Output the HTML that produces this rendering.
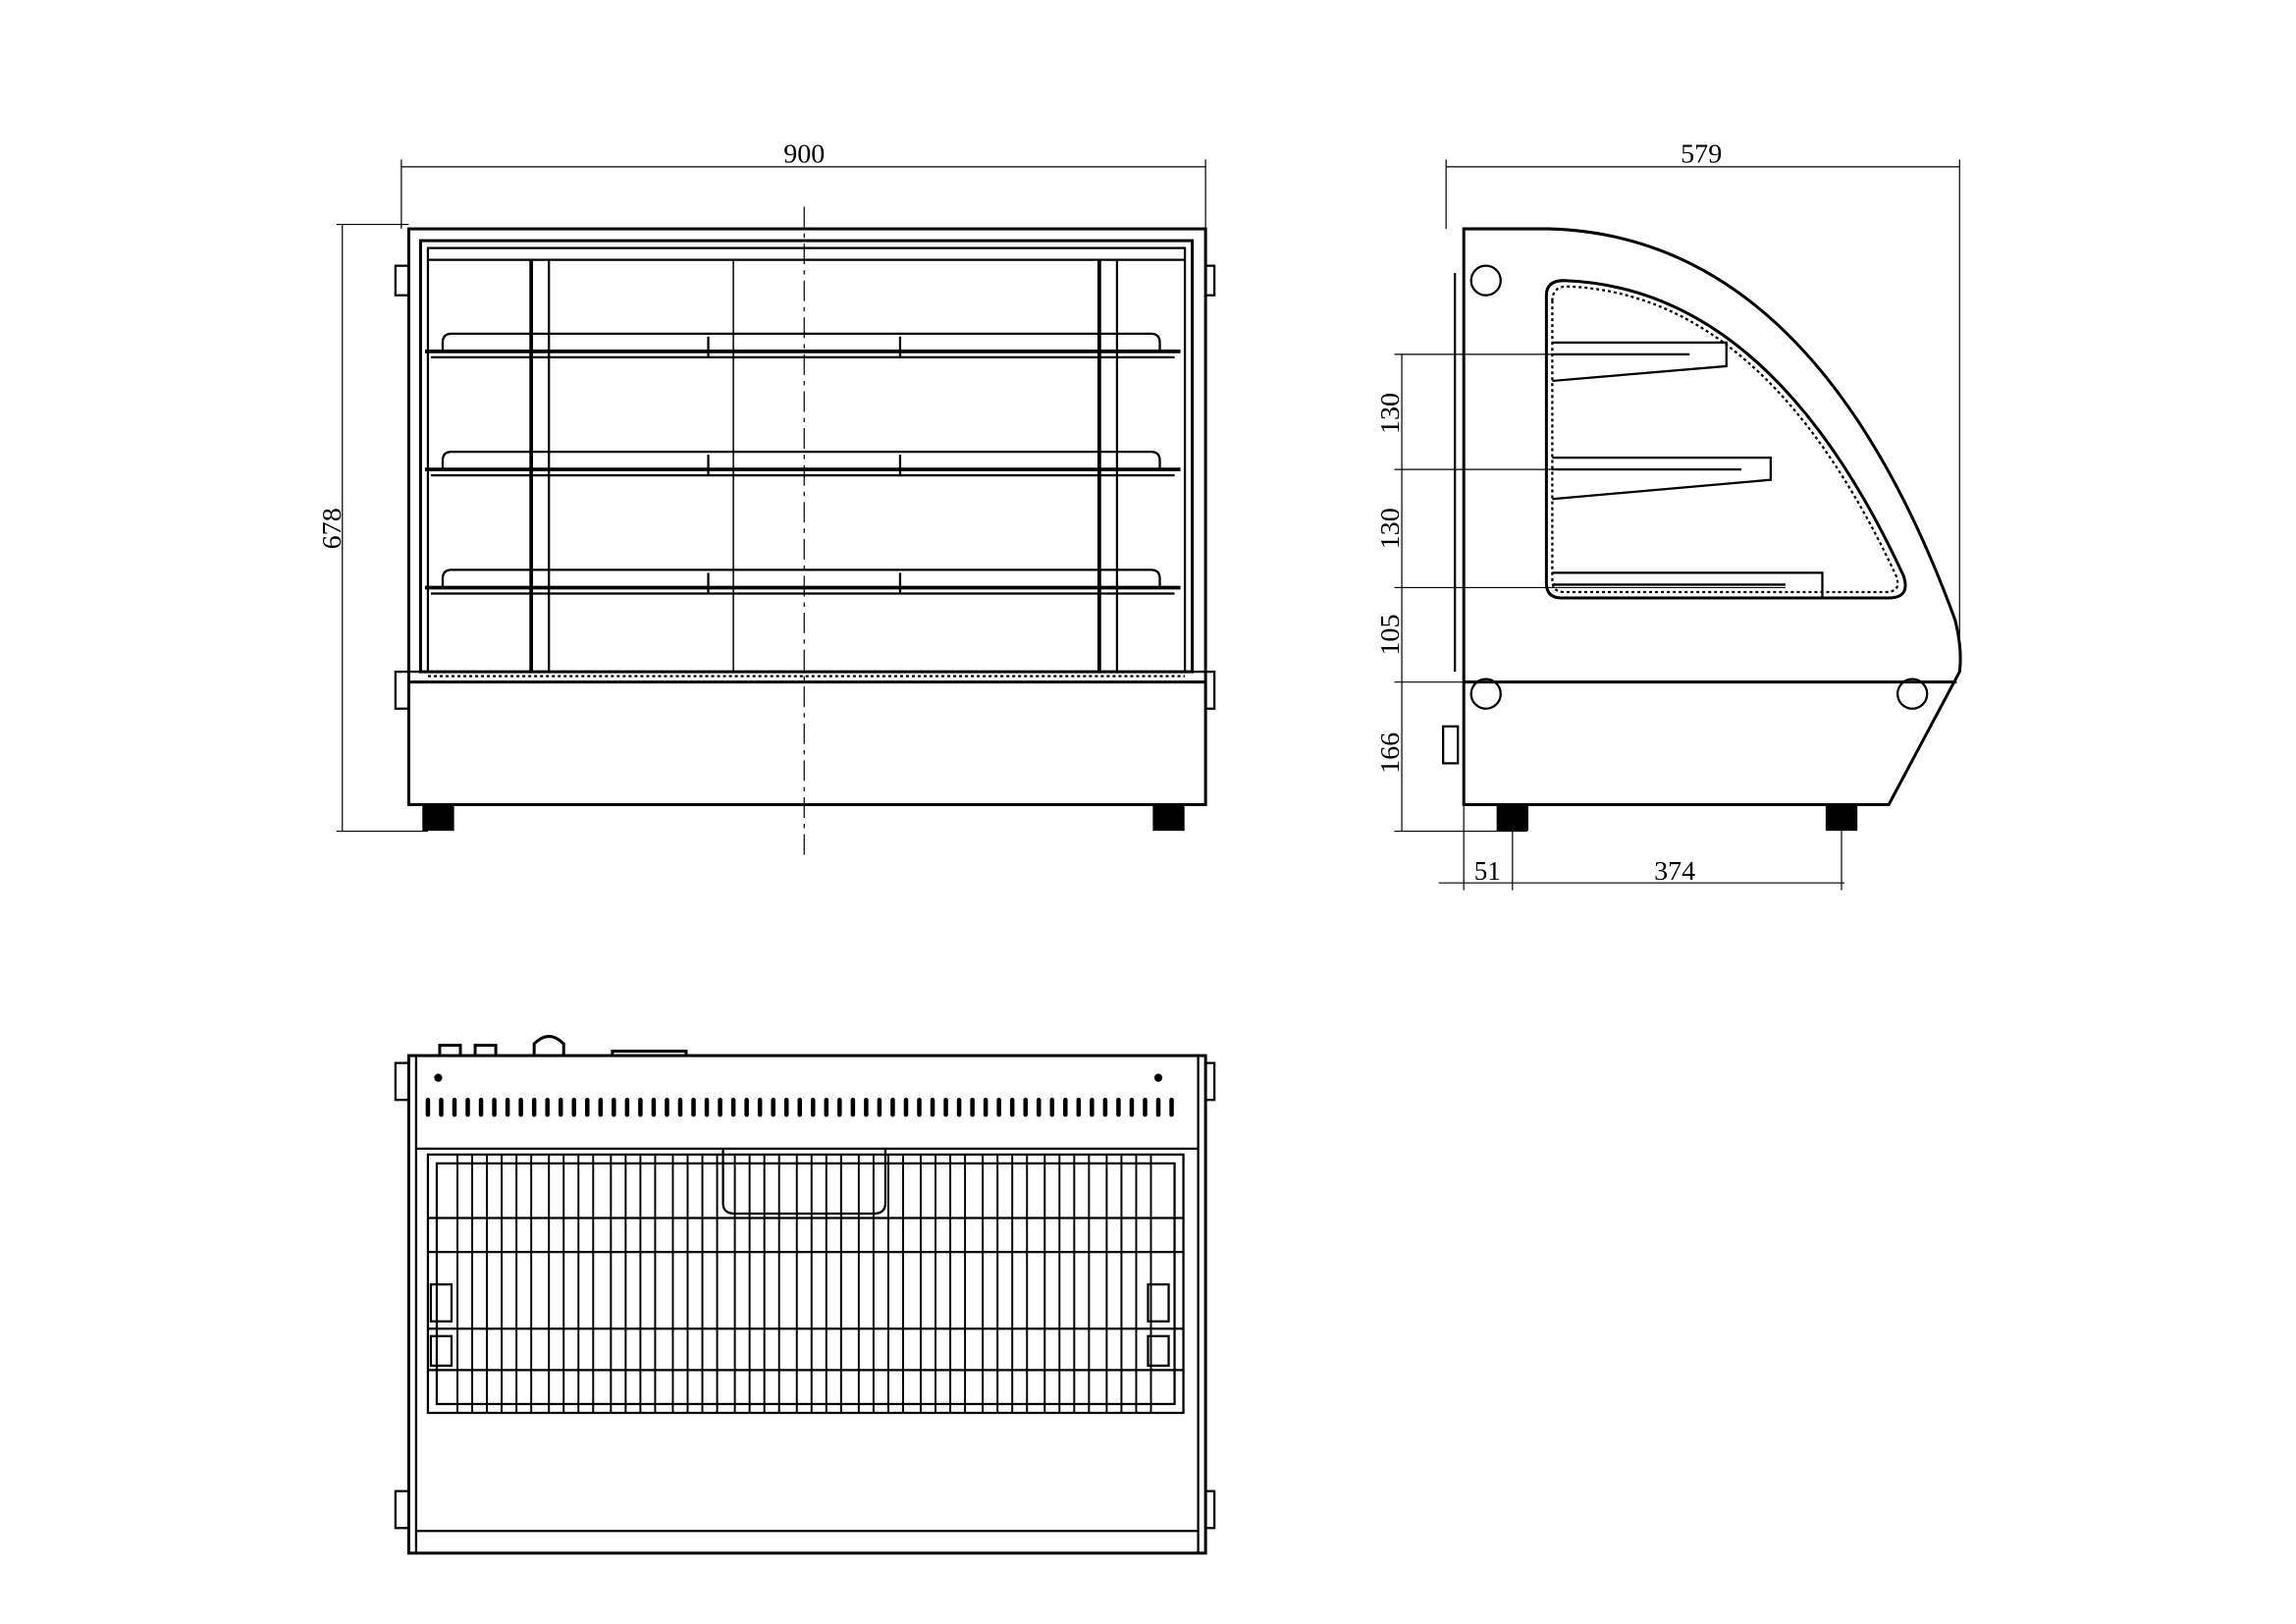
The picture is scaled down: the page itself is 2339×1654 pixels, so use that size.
<!DOCTYPE html>
<html><head><style>html,body{margin:0;padding:0;background:#fff}svg{display:block}</style></head>
<body>
<svg width="2339" height="1654" viewBox="0 0 1556 1100" preserveAspectRatio="none" xmlns="http://www.w3.org/2000/svg" font-family="Liberation Serif, serif" font-size="18">
<g fill="none" stroke="#000" stroke-width="1.5">
<!-- FRONT VIEW -->
<line x1="272" y1="113" x2="817" y2="113" stroke-width="0.8"/>
<line x1="272" y1="108" x2="272" y2="155" stroke-width="0.8"/>
<line x1="817" y1="108" x2="817" y2="155" stroke-width="0.8"/>
<line x1="232" y1="152" x2="232" y2="563" stroke-width="0.8"/>
<line x1="228" y1="152" x2="277" y2="152" stroke-width="0.8"/>
<line x1="228" y1="563" x2="290" y2="563" stroke-width="0.8"/>
<rect x="277" y="155" width="540" height="390" stroke-width="2"/>
<line x1="277" y1="462" x2="817" y2="462" stroke-width="2"/>
<rect x="285" y="163" width="523" height="292" stroke-width="2"/>
<rect x="290" y="168" width="513" height="287"/>
<line x1="290" y1="176" x2="803" y2="176"/>
<line x1="372" y1="176" x2="372" y2="455"/><line x1="360" y1="176" x2="360" y2="455" stroke-width="2.5"/>
<line x1="745" y1="176" x2="745" y2="455" stroke-width="2.5"/><line x1="757" y1="176" x2="757" y2="455"/>
<line x1="497" y1="176" x2="497" y2="455" stroke-width="1"/>
<line x1="277" y1="455" x2="817" y2="455"/>
<rect x="268" y="180" width="9" height="20"/><rect x="817" y="180" width="6" height="20"/>
<rect x="268" y="455" width="9" height="25"/><rect x="817" y="455" width="6" height="25"/>
<g id="shelf">
<path d="M300 238 V232 Q300 226 306 226 H780 Q786 226 786 232 V238"/>
<line x1="288" y1="238" x2="800" y2="238" stroke-width="2.5"/>
<line x1="292" y1="242" x2="796" y2="242"/>
<line x1="480" y1="228" x2="480" y2="242"/><line x1="610" y1="228" x2="610" y2="242"/>
</g>
<use href="#shelf" y="80"/><use href="#shelf" y="160"/>
<line x1="290" y1="458" x2="803" y2="458" stroke-dasharray="2 2"/>
<rect x="287" y="545" width="20" height="17" fill="#000"/><rect x="782" y="545" width="20" height="17" fill="#000"/>
<line x1="545" y1="140" x2="545" y2="580" stroke-width="0.8" stroke-dasharray="14 4 3 4"/>
<!-- SIDE VIEW -->
<line x1="980" y1="113" x2="1328" y2="113" stroke-width="0.8"/>
<line x1="980" y1="108" x2="980" y2="155" stroke-width="0.8"/>
<line x1="1328" y1="108" x2="1328" y2="455" stroke-width="0.8"/>
<path d="M992 155 H1050 Q1230 160 1325 420 Q1330 440 1328 455 L1280 545 H992 Z" stroke-width="2"/>
<line x1="992" y1="462" x2="1326" y2="462" stroke-width="2"/>
<line x1="986" y1="185" x2="986" y2="455"/>
<path d="M1048 200 Q1048 190 1060 190 Q1200 195 1290 390 Q1295 405 1280 405 H1058 Q1048 405 1048 395 Z" stroke-width="2"/>
<path d="M1052 204 Q1052 194 1062 194 Q1196 199 1285 390 Q1289 401 1278 401 H1060 Q1052 401 1052 393 Z" stroke-dasharray="2 2"/>
<circle cx="1007" cy="190" r="10"/><circle cx="1007" cy="470" r="10"/><circle cx="1296" cy="470" r="10"/>
<path d="M1052 232 H1170 V248 L1052 258"/><path d="M1052 240 H1145"/>
<path d="M1052 310 H1200 V325 L1052 338"/><path d="M1052 318 H1180"/>
<path d="M1052 388 H1235 V405"/><path d="M1052 396 H1210"/>
<rect x="978" y="492" width="10" height="25"/>
<rect x="1015" y="545" width="20" height="17" fill="#000"/><rect x="1238" y="545" width="20" height="17" fill="#000"/>
<line x1="950" y1="240" x2="950" y2="563" stroke-width="0.8"/>
<line x1="945" y1="240" x2="1145" y2="240" stroke-width="0.8"/>
<line x1="945" y1="318" x2="1180" y2="318" stroke-width="0.8"/>
<line x1="945" y1="398" x2="1210" y2="398" stroke-width="0.8"/>
<line x1="945" y1="462" x2="992" y2="462" stroke-width="0.8"/>
<line x1="945" y1="563" x2="1035" y2="563" stroke-width="0.8"/>
<line x1="975" y1="598" x2="1250" y2="598" stroke-width="0.8"/>
<line x1="992" y1="545" x2="992" y2="603" stroke-width="0.8"/>
<line x1="1025" y1="560" x2="1025" y2="603" stroke-width="0.8"/>
<line x1="1248" y1="560" x2="1248" y2="603" stroke-width="0.8"/>
<!-- TOP VIEW -->
<rect x="277" y="715" width="540" height="337" stroke-width="2"/>
<line x1="282" y1="715" x2="282" y2="1052"/><line x1="812" y1="715" x2="812" y2="1052"/>
<line x1="282" y1="778" x2="812" y2="778"/>
<line x1="282" y1="1037" x2="812" y2="1037"/>
<rect x="268" y="720" width="9" height="25"/><rect x="817" y="720" width="6" height="25"/>
<rect x="268" y="1010" width="9" height="25"/><rect x="817" y="1010" width="6" height="25"/>
<circle cx="297" cy="730" r="2" fill="#000"/><circle cx="785" cy="730" r="2" fill="#000"/>
<path d="M298 715 v-7 h14 v7 M322 715 v-7 h14 v7 M362 715 v-8 q10 -10 20 0 v8 M415 715 v-3 h50 v3" stroke-width="2"/>
<path d="M290 745 V755 M299 745 V755 M308 745 V755 M317 745 V755 M326 745 V755 M335 745 V755 M344 745 V755 M353 745 V755 M362 745 V755 M371 745 V755 M380 745 V755 M389 745 V755 M398 745 V755 M407 745 V755 M416 745 V755 M425 745 V755 M434 745 V755 M443 745 V755 M452 745 V755 M461 745 V755 M470 745 V755 M479 745 V755 M488 745 V755 M497 745 V755 M506 745 V755 M515 745 V755 M524 745 V755 M533 745 V755 M542 745 V755 M551 745 V755 M560 745 V755 M569 745 V755 M578 745 V755 M587 745 V755 M596 745 V755 M605 745 V755 M614 745 V755 M623 745 V755 M632 745 V755 M641 745 V755 M650 745 V755 M659 745 V755 M668 745 V755 M677 745 V755 M686 745 V755 M695 745 V755 M704 745 V755 M713 745 V755 M722 745 V755 M731 745 V755 M740 745 V755 M749 745 V755 M758 745 V755 M767 745 V755 M776 745 V755 M785 745 V755 M794 745 V755" stroke-width="3" stroke-linecap="round"/>
<rect x="290" y="782" width="512" height="175"/>
<rect x="296" y="788" width="500" height="163"/>
<line x1="290" y1="825" x2="802" y2="825"/><line x1="290" y1="848" x2="802" y2="848"/>
<line x1="290" y1="900" x2="802" y2="900"/><line x1="290" y1="928" x2="802" y2="928"/>
<path d="M490 778 V815 Q490 822 498 822 H592 Q600 822 600 815 V778"/>
<path stroke-width="1.3" d="M310 782V957M320 782V957M330 782V957M340 782V957M350 782V957M360 782V957M372 782V957M382 782V957M392 782V957M402 782V957M414 782V957M424 782V957M434 782V957M444 782V957M456 782V957M466 782V957M476 782V957M486 782V957M498 782V957M508 782V957M518 782V957M528 782V957M540 782V957M550 782V957M560 782V957M570 782V957M582 782V957M592 782V957M602 782V957M612 782V957M624 782V957M634 782V957M644 782V957M654 782V957M666 782V957M676 782V957M686 782V957M696 782V957M708 782V957M718 782V957M728 782V957M738 782V957M750 782V957M760 782V957M770 782V957M780 782V957"/>
<rect x="292" y="870" width="14" height="25"/><rect x="778" y="870" width="14" height="25"/>
<rect x="292" y="905" width="14" height="20"/><rect x="778" y="905" width="14" height="20"/>
</g>
<g fill="#000" stroke="none">
<text x="531" y="110" textLength="28" lengthAdjust="spacingAndGlyphs">900</text>
<text x="1139" y="110" textLength="28" lengthAdjust="spacingAndGlyphs">579</text>
<text transform="translate(231,372) rotate(-90)" textLength="28" lengthAdjust="spacingAndGlyphs">678</text>
<text transform="translate(948,294) rotate(-90)" textLength="28" lengthAdjust="spacingAndGlyphs">130</text>
<text transform="translate(948,372) rotate(-90)" textLength="28" lengthAdjust="spacingAndGlyphs">130</text>
<text transform="translate(948,444) rotate(-90)" textLength="28" lengthAdjust="spacingAndGlyphs">105</text>
<text transform="translate(948,524) rotate(-90)" textLength="28" lengthAdjust="spacingAndGlyphs">166</text>
<text x="999" y="596" textLength="18" lengthAdjust="spacingAndGlyphs">51</text>
<text x="1121" y="596" textLength="28" lengthAdjust="spacingAndGlyphs">374</text>
</g>
</svg>
</body></html>
